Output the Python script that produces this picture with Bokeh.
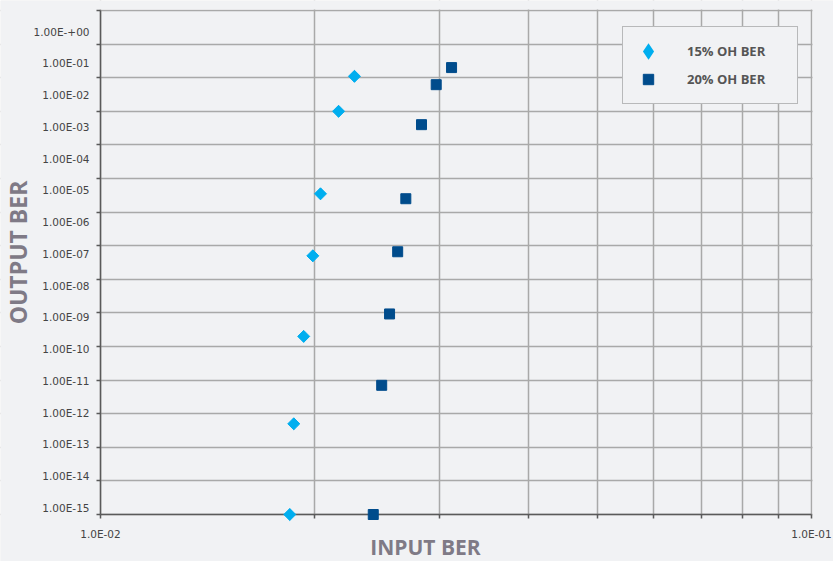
import math
from bokeh.plotting import figure
from bokeh.models import (FixedTicker, Legend, LegendItem, Label, Range1d,
                          CustomJSTickFormatter, BoxAnnotation, LogAxis, LogScale)
from bokeh.embed import file_html
from bokeh.resources import INLINE

# ---- data ----
series_names = ["15% OH BER", "20% OH BER"]
input_ber_15 = [0.02276, 0.02162, 0.02039, 0.01989, 0.01931, 0.01870, 0.01846]
output_ber_15 = [1.1e-2, 1.0e-3, 3.5e-6, 5.0e-8, 2.0e-10, 5.0e-13, 1.0e-15]
input_ber_20 = [0.03117, 0.02966, 0.02828, 0.02688, 0.02618, 0.02550, 0.02486, 0.02419]
output_ber_20 = [2.0e-2, 6.2e-3, 4.0e-4, 2.5e-6, 6.6e-8, 9.3e-10, 7.0e-12, 1.0e-15]

y_exponents = list(range(-15, 1))
y_tick_labels = ["1.00E-15", "1.00E-14", "1.00E-13", "1.00E-12", "1.00E-11",
                 "1.00E-10", "1.00E-09", "1.00E-08", "1.00E-07", "1.00E-06",
                 "1.00E-05", "1.00E-04", "1.00E-03", "1.00E-02", "1.00E-01",
                 "1.00E-+00"]
x_exponents = [-2, -1]
x_tick_labels = ["1.0E-02", "1.0E-01"]
x_minor = [0.02, 0.03, 0.04, 0.05, 0.06, 0.07, 0.08, 0.09]
x_lo, x_hi = 0.01, 0.1
y_lo, y_hi = 1e-15, 1.0

# ---- layout (pixels) ----
W, H = 833, 561
PL, PB = 100, 514          # pixel of x_lo / y_lo
XD, YD = 711.0, 33.6       # pixels per decade
LP0, LD = 507.2, 31.73     # y tick labels are spaced a little tighter than the grid


def xv(px):
    return 10 ** (math.log10(x_lo) + (px - PL) / XD)


def yv(py):
    return 10 ** (math.log10(y_lo) + (PB - py) / YD)


def lv(py):
    return 10 ** (math.log10(y_lo) + (LP0 - py) / LD)


BG = "#f1f2f4"
GRID = "#a9a9a9"
AXIS = "#5a5a5a"
C15 = "#00aeef"
C20 = "#004c8c"
TITLE_C = "#7f7a86"
TICK_FONT = "DejaVu Sans"
TICK_SIZE = "10.5px"
TICK_C = "#444444"

p = figure(width=W, height=H, x_axis_type="log", y_axis_type="log",
           x_range=Range1d(xv(0), xv(W)), y_range=Range1d(yv(H), yv(0)),
           output_backend="svg", toolbar_location=None,
           min_border=0, min_border_left=0, min_border_right=0,
           min_border_top=0, min_border_bottom=0)
p.title.visible = False
p.background_fill_color = BG
p.border_fill_color = BG
p.outline_line_color = None

# ---- axes ----
xt = FixedTicker(ticks=[10.0 ** e for e in x_exponents], minor_ticks=x_minor)
yt = FixedTicker(ticks=[10.0 ** e for e in y_exponents])
xaxis = p.below[0]
yaxis = p.left[0]
xaxis.ticker = xt
yaxis.ticker = yt
p.xgrid.ticker = xt
p.ygrid.ticker = yt

fmt_code = ("const e = Math.round(Math.log10(tick)); const i = exps.indexOf(e); "
            "return i >= 0 ? labels[i] : '';")
xaxis.formatter = CustomJSTickFormatter(
    args=dict(labels=x_tick_labels, exps=x_exponents), code=fmt_code)
yaxis.formatter = CustomJSTickFormatter(code="return '';")

xaxis.fixed_location = y_lo
yaxis.fixed_location = x_lo
xaxis.bounds = (x_lo, x_hi)
yaxis.bounds = (y_lo, y_hi)
for ax in (xaxis, yaxis):
    ax.axis_line_color = AXIS
    ax.axis_line_width = 1.5
    ax.major_tick_line_color = AXIS
    ax.major_tick_line_width = 1.5
    ax.major_tick_in = 0
    ax.major_tick_out = 4
    ax.major_label_text_font = TICK_FONT
    ax.major_label_text_font_size = TICK_SIZE
    ax.major_label_text_color = TICK_C
xaxis.minor_tick_line_color = AXIS
xaxis.minor_tick_line_width = 1.5
xaxis.minor_tick_in = 0
xaxis.minor_tick_out = 4
yaxis.minor_tick_line_color = None
xaxis.major_label_standoff = 9

# y tick labels (placed as in the reference, slightly tighter than the grid)
p.extra_y_ranges = {"labels": Range1d(lv(H), lv(0))}
p.extra_y_scales = {"labels": LogScale()}
label_axis = LogAxis(y_range_name="labels", ticker=yt, fixed_location=x_lo,
                     formatter=CustomJSTickFormatter(
                         args=dict(labels=y_tick_labels, exps=y_exponents),
                         code=fmt_code),
                     axis_line_color=None, major_tick_line_color=None,
                     minor_tick_line_color=None, major_tick_in=0,
                     major_tick_out=4, major_label_standoff=7,
                     major_label_text_font=TICK_FONT,
                     major_label_text_font_size=TICK_SIZE,
                     major_label_text_color=TICK_C)
p.add_layout(label_axis, "left")

p.xgrid.grid_line_color = GRID
p.xgrid.grid_line_width = 1.5
p.xgrid.minor_grid_line_color = GRID
p.xgrid.minor_grid_line_width = 1.5
p.ygrid.grid_line_color = GRID
p.ygrid.grid_line_width = 1.5

# mask grid lines outside the plotting rectangle
for kw in (dict(bottom=yv(PB - 505)), dict(top=yv(PB + 1)),
           dict(right=xv(PL - 1)), dict(left=xv(PL + XD + 1))):
    p.add_layout(BoxAnnotation(fill_color=BG, fill_alpha=1.0, line_color=None,
                               level="underlay", **kw))

# ---- data marks ----
r15_leg = p.scatter(input_ber_15, output_ber_15, marker="diamond", size=6,
                    fill_color=C15, line_color=C15, line_width=3.5,
                    line_join="miter", level="overlay")
r15 = p.scatter(input_ber_15, output_ber_15, marker="square", angle=math.pi / 4,
                size=8.5, fill_color=C15, line_color=C15, level="overlay")
r20 = p.scatter(input_ber_20, output_ber_20, marker="square",
                size=10, fill_color=C20, line_color=C20, level="overlay")

legend = Legend(items=[LegendItem(label=series_names[0], renderers=[r15_leg]),
                       LegendItem(label=series_names[1], renderers=[r20])],
                location=(622, H - 104))
legend.label_text_font = "Open Sans"
legend.label_text_font_style = "bold"
legend.label_text_font_size = "13px"
legend.label_text_color = "#555555"
legend.padding = 11
legend.spacing = 2
legend.margin = 0
legend.glyph_width = 28
legend.glyph_height = 26
legend.label_height = 20
legend.label_width = 99
legend.label_standoff = 25
legend.border_line_color = "#7f7f7f"
legend.border_line_width = 1.5
legend.background_fill_color = BG
legend.background_fill_alpha = 1.0
p.add_layout(legend)

# ---- axis titles ----
p.add_layout(Label(x=425, y=H - 546.5, x_units="screen", y_units="screen",
                   text="INPUT BER", text_align="center", text_baseline="middle",
                   text_font="Open Sans", text_font_style="bold",
                   text_font_size="21px", text_color=TITLE_C))
p.add_layout(Label(x=17.5, y=H - 252, x_units="screen", y_units="screen",
                   text="OUTPUT BER", angle=math.pi / 2, text_align="center",
                   text_baseline="middle", text_font="Open Sans",
                   text_font_style="bold", text_font_size="23px",
                   text_color=TITLE_C))

open("out.html", "w").write(file_html(p, INLINE))
